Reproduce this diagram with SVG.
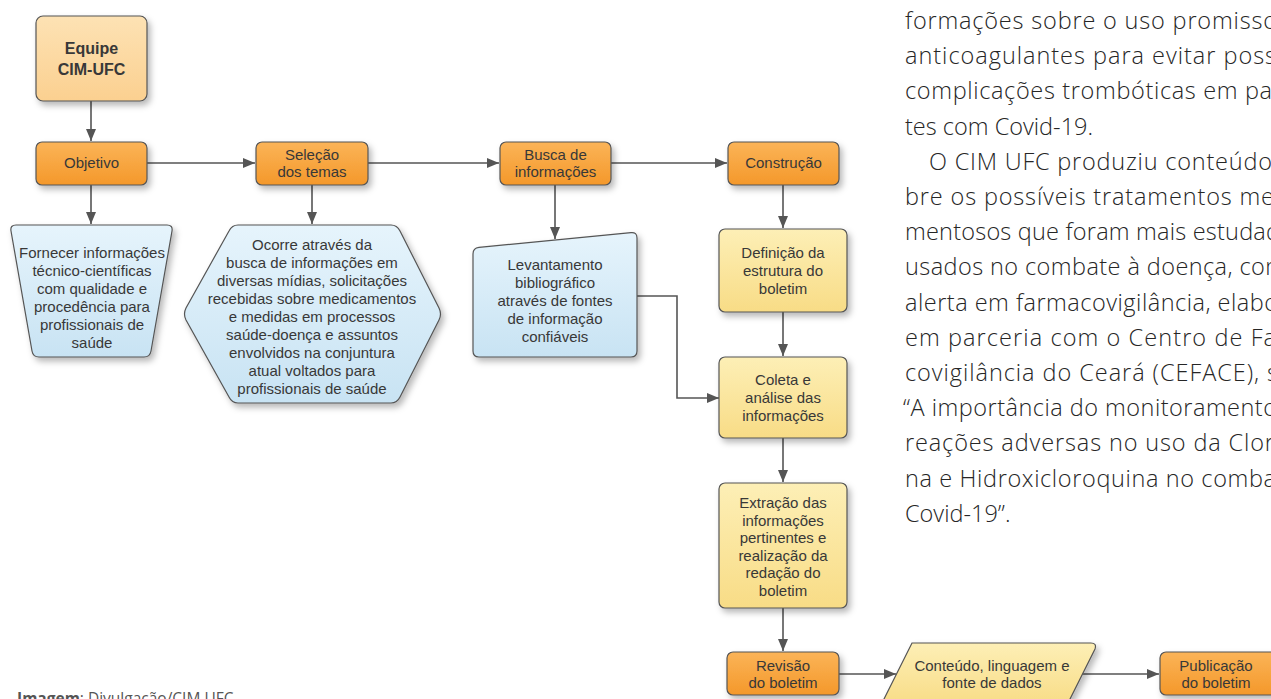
<svg xmlns="http://www.w3.org/2000/svg" width="1271" height="699" viewBox="0 0 1271 699">
<defs>
<linearGradient id="gOr" x1="0" y1="0" x2="0" y2="1"><stop offset="0" stop-color="#fbb458"/><stop offset="1" stop-color="#f4982a"/></linearGradient>
<linearGradient id="gPe" x1="0" y1="0" x2="0" y2="1"><stop offset="0" stop-color="#fde2b4"/><stop offset="1" stop-color="#fbd090"/></linearGradient>
<linearGradient id="gBl" x1="0" y1="0" x2="0" y2="1"><stop offset="0" stop-color="#e6f4fc"/><stop offset="1" stop-color="#c8e3f3"/></linearGradient>
<linearGradient id="gYe" x1="0" y1="0" x2="0" y2="1"><stop offset="0" stop-color="#fdefb6"/><stop offset="1" stop-color="#f8dc86"/></linearGradient>
<filter id="sh" x="-20%" y="-20%" width="150%" height="150%"><feDropShadow dx="3" dy="4" stdDeviation="3" flood-color="#000" flood-opacity="0.28"/></filter>
<marker id="ah" markerUnits="userSpaceOnUse" markerWidth="12" markerHeight="10" refX="12" refY="5" orient="auto"><path d="M0,0 L12,5 L0,10 Z" fill="#555"/></marker>
<style>
.b{stroke:#555;stroke-width:1.2;filter:url(#sh)}
.or{fill:url(#gOr)}.pe{fill:url(#gPe)}.bl{fill:url(#gBl)}.ye{fill:url(#gYe)}
.t{font-family:"Liberation Sans",Arial,sans-serif;font-size:15px;fill:#383838;text-anchor:middle}
.tb{font-family:"Liberation Sans",Arial,sans-serif;font-size:16px;font-weight:bold;fill:#383838;text-anchor:middle}
.c{fill:none;stroke:#555;stroke-width:1.6;marker-end:url(#ah)}
.p{font-family:"Open Sans","Noto Sans",sans-serif;font-size:23.5px;font-weight:300;fill:#262626}
.cap{font-family:"Open Sans","Noto Sans",sans-serif;font-size:15.5px;fill:#555}
</style>
</defs>

<g id="connectors">
<path class="c" d="M91,101 V141"/>
<path class="c" d="M147,163 H255"/>
<path class="c" d="M368,163 H499"/>
<path class="c" d="M611,163 H727"/>
<path class="c" d="M91,185 V224"/>
<path class="c" d="M312,185 V224"/>
<path class="c" d="M555,185 V239"/>
<path class="c" d="M783,185 V228"/>
<path class="c" d="M783,312 V356"/>
<path class="c" d="M637,296 H677 V398 H719"/>
<path class="c" d="M783,438 V482"/>
<path class="c" d="M783,608 V651"/>
<path class="c" d="M839,674 H896"/>
<path class="c" d="M1082,674 H1159"/>
</g>

<g id="equipe">
<rect class="b pe" x="36" y="16" width="111" height="85" rx="7"/>
<text class="tb" x="91.5" y="54">Equipe</text>
<text class="tb" x="91.5" y="75">CIM-UFC</text>
</g>
<g id="objetivo">
<rect class="b or" x="36" y="142" width="111" height="43" rx="6"/>
<text class="t" x="91.5" y="168">Objetivo</text>
</g>
<g id="selecao">
<rect class="b or" x="256" y="142" width="112" height="43" rx="6"/>
<text class="t" x="312" y="160">Seleção</text>
<text class="t" x="312" y="177">dos temas</text>
</g>
<g id="busca">
<rect class="b or" x="500" y="142" width="111" height="43" rx="6"/>
<text class="t" x="555.5" y="160">Busca de</text>
<text class="t" x="555.5" y="177">informações</text>
</g>
<g id="construcao">
<rect class="b or" x="728" y="142" width="111" height="43" rx="6"/>
<text class="t" x="783.5" y="168">Construção</text>
</g>

<g id="fornecer">
<path class="b bl" d="M16,225 H167 Q173,225 172,231 L151,351 Q150,357 144,357 H39 Q33,357 32,351 L11,231 Q10,225 16,225 Z"/>
<text class="t" x="92" y="258">Fornecer informações</text>
<text class="t" x="92" y="276">técnico-científicas</text>
<text class="t" x="92" y="294">com qualidade e</text>
<text class="t" x="92" y="312">procedência para</text>
<text class="t" x="92" y="330">profissionais de</text>
<text class="t" x="92" y="348">saúde</text>
</g>

<g id="ocorre">
<path class="b bl" d="M238,225 H391 Q397,225 400,231 L439,308 Q442,314 439,320 L400,397 Q397,403 391,403 H238 Q232,403 229,397 L186,320 Q183,314 186,308 L229,231 Q232,225 238,225 Z"/>
<text class="t" x="312" y="250">Ocorre através da</text>
<text class="t" x="312" y="268">busca de informações em</text>
<text class="t" x="312" y="286">diversas mídias, solicitações</text>
<text class="t" x="312" y="304">recebidas sobre medicamentos</text>
<text class="t" x="312" y="322">e medidas em processos</text>
<text class="t" x="312" y="340">saúde-doença e assuntos</text>
<text class="t" x="312" y="358">envolvidos na conjuntura</text>
<text class="t" x="312" y="376">atual voltados para</text>
<text class="t" x="312" y="394">profissionais de saúde</text>
</g>

<g id="levantamento">
<path class="b bl" d="M479,247.4 L631,232.6 Q637,232 637,238 V351 Q637,357 631,357 H479 Q473,357 473,351 V254 Q473,248 479,247.4 Z"/>
<text class="t" x="555" y="270">Levantamento</text>
<text class="t" x="555" y="288">bibliográfico</text>
<text class="t" x="555" y="306">através de fontes</text>
<text class="t" x="555" y="324">de informação</text>
<text class="t" x="555" y="342">confiáveis</text>
</g>

<g id="definicao">
<rect class="b ye" x="719" y="229" width="128" height="83" rx="6"/>
<text class="t" x="783" y="258">Definição da</text>
<text class="t" x="783" y="276">estrutura do</text>
<text class="t" x="783" y="294">boletim</text>
</g>
<g id="coleta">
<rect class="b ye" x="719" y="357" width="128" height="81" rx="6"/>
<text class="t" x="783" y="385">Coleta e</text>
<text class="t" x="783" y="403">análise das</text>
<text class="t" x="783" y="421">informações</text>
</g>
<g id="extracao">
<rect class="b ye" x="719" y="483" width="128" height="125" rx="6"/>
<text class="t" x="783" y="508">Extração das</text>
<text class="t" x="783" y="525.5">informações</text>
<text class="t" x="783" y="543">pertinentes e</text>
<text class="t" x="783" y="560.5">realização da</text>
<text class="t" x="783" y="578">redação do</text>
<text class="t" x="783" y="595.5">boletim</text>
</g>
<g id="revisao">
<rect class="b or" x="727" y="652" width="112" height="43" rx="6"/>
<text class="t" x="783" y="671">Revisão</text>
<text class="t" x="783" y="688">do boletim</text>
</g>
<g id="conteudo">
<path class="b ye" d="M912,643 H1091 Q1097,643 1095,649 L1067,705 H881 Z"/>
<text class="t" x="992" y="671">Conteúdo, linguagem e</text>
<text class="t" x="992" y="688">fonte de dados</text>
</g>
<g id="publicacao">
<rect class="b or" x="1160" y="652" width="125" height="43" rx="6"/>
<text class="t" x="1216" y="671">Publicação</text>
<text class="t" x="1216" y="688">do boletim</text>
</g>

<g id="texto">
<text class="p" x="905" y="29" textLength="372" lengthAdjust="spacing">formações sobre o uso promisso</text>
<text class="p" x="905" y="64.2" textLength="371" lengthAdjust="spacing">anticoagulantes para evitar poss</text>
<text class="p" x="905" y="99.4" textLength="367" lengthAdjust="spacing">complicações trombóticas em pa</text>
<text class="p" x="905" y="134.6">tes com Covid-19.</text>
<text class="p" x="929" y="169.8" textLength="343" lengthAdjust="spacing">O CIM UFC produziu conteúdo</text>
<text class="p" x="905" y="205" textLength="369" lengthAdjust="spacing">bre os possíveis tratamentos me</text>
<text class="p" x="905" y="240.2" textLength="375" lengthAdjust="spacing">mentosos que foram mais estudad</text>
<text class="p" x="905" y="275.4" textLength="381" lengthAdjust="spacing">usados no combate à doença, com</text>
<text class="p" x="905" y="310.6" textLength="373" lengthAdjust="spacing">alerta em farmacovigilância, elabo</text>
<text class="p" x="905" y="345.8" textLength="371" lengthAdjust="spacing">em parceria com o Centro de Fa</text>
<text class="p" x="905" y="381" textLength="373" lengthAdjust="spacing">covigilância do Ceará (CEFACE), s</text>
<text class="p" x="903" y="416.2" textLength="374" lengthAdjust="spacing">“A importância do monitoramento</text>
<text class="p" x="905" y="451.4" textLength="369" lengthAdjust="spacing">reações adversas no uso da Clor</text>
<text class="p" x="905" y="486.6" textLength="371" lengthAdjust="spacing">na e Hidroxicloroquina no comba</text>
<text class="p" x="905" y="521.8">Covid-19”.</text>
</g>

<text class="cap" x="17" y="704"><tspan font-weight="bold">Imagem</tspan>: Divulgação/CIM UFC</text>
</svg>
